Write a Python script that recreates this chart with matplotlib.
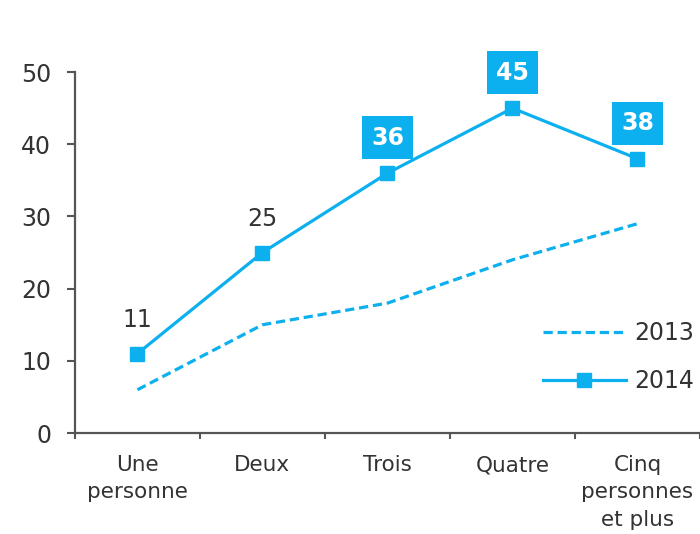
import matplotlib
matplotlib.use("Agg")
import matplotlib.pyplot as plt

categories = ["Une\npersonne", "Deux", "Trois", "Quatre", "Cinq\npersonnes\net plus"]
values_2013 = [6, 15, 18, 24, 29]
values_2014 = [11, 25, 36, 45, 38]
boxed = [False, False, True, True, True]
yticks = [0, 10, 20, 30, 40, 50]

BLUE = "#0DB0EE"
TXT = "#333333"
AX = "#555555"

plt.rcParams['font.family'] = ['DejaVu Sans']
fig = plt.figure(figsize=(7, 5.34), dpi=100)
ax = fig.add_axes([0.107, 0.189, 0.893, 0.676])
x = list(range(len(categories)))

ax.plot(x, values_2013, color=BLUE, lw=2.3, ls=(0, (2.9, 1.5)), label="2013", clip_on=False)
ax.plot(x, values_2014, color=BLUE, lw=2.3, marker="s", ms=9.5, label="2014", clip_on=False)

for xi, v, b in zip(x, values_2014, boxed):
    if b:
        ax.annotate(str(v), (xi, v), xytext=(0, 25.5), textcoords="offset points",
                    ha="center", va="center", fontsize=17, fontweight="bold", color="white",
                    bbox=dict(boxstyle="square,pad=0.4", fc=BLUE, ec="none"))
    else:
        ax.annotate(str(v), (xi, v), xytext=(0, 24.5), textcoords="offset points",
                    ha="center", va="center", fontsize=17, color=TXT)

ax.set_xlim(-0.5, 4.5)
ax.set_ylim(0, 50)
ax.set_yticks(yticks)
ax.set_xticks([i + 0.5 for i in range(-1, len(categories))])
ax.set_xticklabels([])
ax.set_xticks(x, minor=True)
ax.set_xticklabels(categories, minor=True, fontsize=15.5, color=TXT, linespacing=1.45)
ax.tick_params(axis="x", which="minor", length=0, pad=16)
ax.tick_params(axis="x", which="major", length=4, color=AX, width=1.5)
ax.tick_params(axis="y", length=6, color=AX, width=1.5, labelsize=17, labelcolor=TXT, pad=11)
for s in ["top", "right"]:
    ax.spines[s].set_visible(False)
for s in ["left", "bottom"]:
    ax.spines[s].set_color(AX)
    ax.spines[s].set_linewidth(1.6)
ax.spines["bottom"].set_bounds(-0.5, 4.5)
ax.spines["bottom"].set_clip_on(False)

leg = ax.legend(loc="center left", bbox_to_anchor=(0.749, 0.21), frameon=False,
                fontsize=17, handlelength=3.5, handletextpad=0.34, labelspacing=1.0,
                borderpad=0, borderaxespad=0, labelcolor=TXT)

fig.savefig("out.png", dpi=100)
